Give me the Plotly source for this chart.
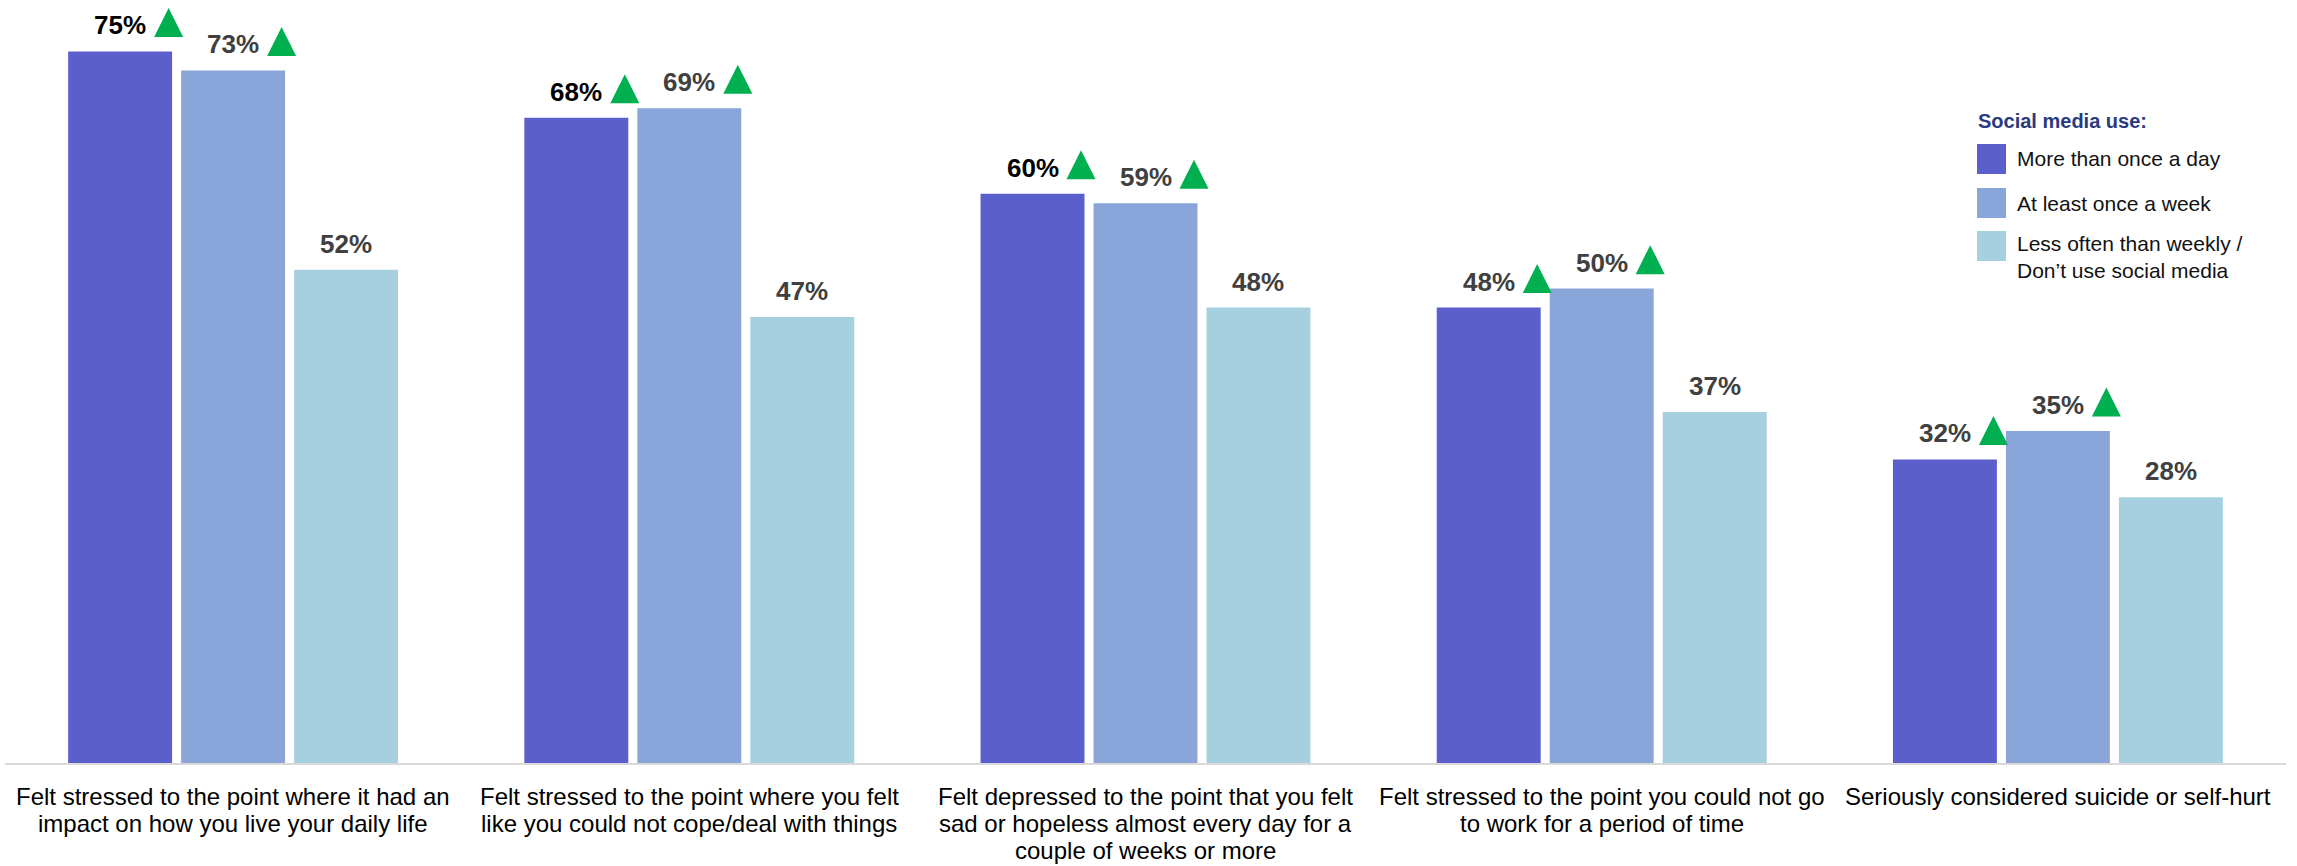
import plotly.graph_objects as go

# ---------------- data ----------------
categories = [
    "Felt stressed to the point where it had an<br>impact on how you live your daily life",
    "Felt stressed to the point where you felt<br>like you could not cope/deal with things",
    "Felt depressed to the point that you felt<br>sad or hopeless almost every day for a<br>couple of weeks or more",
    "Felt stressed to the point you could not go<br>to work for a period of time",
    "Seriously considered suicide or self-hurt",
]
series_names = [
    "More than once a day",
    "At least once a week",
    "Less often than weekly /<br>Don’t use social media",
]
more_than_daily = [75, 68, 60, 48, 32]
at_least_weekly = [73, 69, 59, 50, 35]
less_often = [52, 47, 48, 37, 28]
sig_more_than_daily = [True, True, True, True, True]
sig_at_least_weekly = [True, True, True, True, True]
sig_less_often = [False, False, False, False, False]
label_colors_daily = ["#000000", "#000000", "#000000", "#404040", "#404040"]
legend_title = "Social media use:"

# ---------------- style ----------------
W, H = 2297, 866
ML, MR, MT, MB = 5, 11, 4, 103
YMAX = 80
colors = ["#5b5fcc", "#89a5d9", "#a6cfdf"]
GREEN = "#00b050"
FONT = "Liberation Sans, Arial, sans-serif"
bargap = 0.257
bargroupgap = 0.08
slot = (1 - bargap) / 3

pw = W - ML - MR
ph = H - MT - MB
ppu_x = pw / len(categories)     # pixels per category unit
ppu_y = ph / YMAX                # pixels per percentage point

values = [more_than_daily, at_least_weekly, less_often]
sigs = [sig_more_than_daily, sig_at_least_weekly, sig_less_often]
lab_cols = [label_colors_daily, ["#404040"] * 5, ["#404040"] * 5]

xpos = list(range(len(categories)))

fig = go.Figure()
for j in range(3):
    fig.add_trace(go.Bar(
        x=xpos, y=values[j], name=series_names[j],
        marker=dict(color=colors[j], line=dict(width=0)),
        showlegend=False, hoverinfo="skip",
    ))

# significance triangles (markers placed relative to each bar)
tri_x, tri_y = [], []
for j in range(3):
    for i, v in enumerate(values[j]):
        if sigs[j][i]:
            cx = i + (j - 1) * slot
            tri_x.append(cx + 48.5 / ppu_x)
            tri_y.append(v + 43.5 / ppu_y)
fig.add_trace(go.Scatter(
    x=tri_x, y=tri_y, mode="markers", showlegend=False, hoverinfo="skip",
    marker=dict(symbol="arrow-up", size=29, color=GREEN, line=dict(width=0)),
    cliponaxis=False,
))

annotations = []
for j in range(3):
    for i, v in enumerate(values[j]):
        cx = i + (j - 1) * slot
        annotations.append(dict(
            x=cx, y=v, xref="x", yref="y", text=f"<b>{v}%</b>",
            showarrow=False, xanchor="center", yanchor="bottom", yshift=9,
            font=dict(family=FONT, size=26, color=lab_cols[j][i]),
        ))

# category labels, one annotation per line
for i, cat in enumerate(categories):
    for k, line in enumerate(cat.split("<br>")):
        annotations.append(dict(
            x=i, y=0, xref="x", yref="paper", text=line,
            showarrow=False, xanchor="center", yanchor="middle",
            yshift=-(33 + 27 * k),
            font=dict(family=FONT, size=24, color="#000000"),
        ))


# ---------------- custom legend (paper coordinates) ----------------
def px_x(p):
    return (p - ML) / pw


def px_y(p):
    return (H - MB - p) / ph


shapes = []
annotations.append(dict(
    x=px_x(1976), y=px_y(121), xref="paper", yref="paper",
    text=f"<b>{legend_title}</b>", showarrow=False, xanchor="left", yanchor="middle",
    font=dict(family=FONT, size=20, color="#2a3a7e"),
))
sq_tops = [144, 188, 231]
txt_y = [159, 203, 257]
for j in range(3):
    shapes.append(dict(
        type="rect", xref="paper", yref="paper",
        x0=px_x(1977), x1=px_x(2006), y0=px_y(sq_tops[j] + 30), y1=px_y(sq_tops[j]),
        fillcolor=colors[j], line=dict(width=0),
    ))
    annotations.append(dict(
        x=px_x(2015), y=px_y(txt_y[j]), xref="paper", yref="paper",
        text=series_names[j], showarrow=False, xanchor="left", yanchor="middle",
        align="left", font=dict(family=FONT, size=21, color="#111111"),
    ))

fig.update_layout(
    width=W, height=H,
    margin=dict(l=ML, r=MR, t=MT, b=MB, autoexpand=False),
    paper_bgcolor="white", plot_bgcolor="white",
    barmode="group", bargap=bargap, bargroupgap=bargroupgap,
    font=dict(family=FONT, color="#000000"),
    showlegend=False,
    annotations=annotations,
    shapes=shapes,
    xaxis=dict(
        range=[-0.5, len(categories) - 0.5],
        tickmode="array", tickvals=xpos, showticklabels=False, ticks="",
        showline=True, linecolor="#d9d9d9", linewidth=2,
        showgrid=False, zeroline=False, fixedrange=True, automargin=False,
    ),
    yaxis=dict(range=[0, YMAX], visible=False, showgrid=False, zeroline=False,
               fixedrange=True, automargin=False),
)

fig.write_html("out.html", config={"displayModeBar": False})
